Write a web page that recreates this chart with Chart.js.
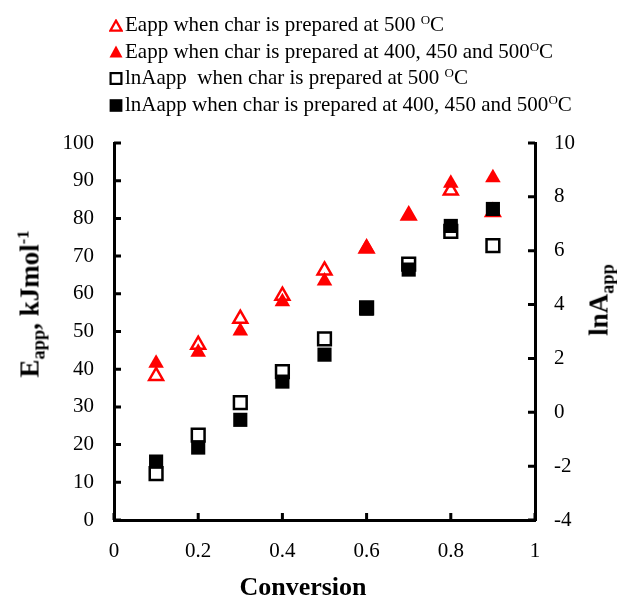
<!DOCTYPE html>
<html>
<head>
<meta charset="utf-8">
<script src="https://cdn.jsdelivr.net/npm/chart.js@4/dist/chart.umd.min.js"></script>
<style>
  html, body { margin: 0; padding: 0; background: #fff; }
  #wrap { position: relative; width: 617px; height: 601px; overflow: hidden; font-family: "Liberation Serif", "Times New Roman", serif; color: #000; }
  #c { position: absolute; left: 0; top: 0; }
  .leg { position: absolute; left: 125px; font-size: 21px; line-height: 1; white-space: nowrap; }
  .mk { position: absolute; left: 109px; }
  sup.o { font-size: 0.62em; vertical-align: 0.55em; line-height: 0; }
  .ytitle { position: absolute; font-weight: bold; font-size: 27px; line-height: 1; white-space: nowrap; transform: translate(-50%, -50%) rotate(-90deg); }
  .ytitle sub { font-size: 0.68em; vertical-align: -0.3em; line-height: 0; }
  .ytitle sup { font-size: 0.62em; vertical-align: 0.6em; line-height: 0; }
  #xtitle { position: absolute; left: 303px; top: 587px; transform: translate(-50%, -50%); font-weight: bold; font-size: 26px; line-height: 1; white-space: nowrap; }
</style>
</head>
<body>
<div id="wrap">
  <canvas id="c" width="617" height="601"></canvas>
  <svg class="mk" style="top:19px" width="14" height="13" viewBox="0 0 14 13"><polygon points="7,1.6 12.6,11.6 1.4,11.6" fill="#fff" stroke="#ff0000" stroke-width="2.2"/></svg>
  <div class="leg" style="top:14px">Eapp when char is prepared at 500 <sup class="o">O</sup>C</div>
  <svg class="mk" style="top:45px" width="14" height="13" viewBox="0 0 14 13"><polygon points="7,0.5 13.5,12.5 0.5,12.5" fill="#ff0000"/></svg>
  <div class="leg" style="top:40.7px">Eapp when char is prepared at 400, 450 and 500<sup class="o">O</sup>C</div>
  <svg class="mk" style="top:72px" width="14" height="13" viewBox="0 0 14 13"><rect x="1.6" y="1.1" width="10.8" height="10.8" fill="#fff" stroke="#000" stroke-width="2.2"/></svg>
  <div class="leg" style="top:67.4px">lnAapp &nbsp;when char is prepared at 500 <sup class="o">O</sup>C</div>
  <svg class="mk" style="top:99px" width="14" height="13" viewBox="0 0 14 13"><rect x="0.6" y="0.2" width="12.8" height="12.6" fill="#000"/></svg>
  <div class="leg" style="top:94.1px">lnAapp when char is prepared at 400, 450 and 500<sup class="o">O</sup>C</div>
  <div class="ytitle" style="left:30px; top:304px">E<sub>app</sub>, kJmol<sup>-1</sup></div>
  <div class="ytitle" style="left:599px; top:300px">lnA<sub>app</sub></div>
  <div id="xtitle">Conversion</div>
</div>
<script>
// ---- data ----
const conversion = [0.1, 0.2, 0.3, 0.4, 0.5, 0.6, 0.7, 0.8, 0.9];
const eappAt500 = [38.2, 46.5, 53.4, 59.5, 66.2, 72.0, 80.8, 87.4, 81.7];
const eappAtAll = [41.6, 44.5, 50.1, 57.9, 63.4, 72.3, 80.8, 89.3, 90.8];
const lnAappAt500 = [-2.28, -0.85, 0.36, 1.51, 2.73, 3.88, 5.50, 6.72, 6.19];
const lnAappAtAll = [-1.83, -1.31, -0.28, 1.14, 2.14, 3.85, 5.30, 6.92, 7.55];
const xTicks = [0, 0.2, 0.4, 0.6, 0.8, 1];
const yLeftRange = [0, 100, 10];
const yRightRange = [-4, 10, 2];

const toPts = (ys) => conversion.map((x, i) => ({ x: x, y: ys[i] }));

const FONT = "'Liberation Serif', 'Times New Roman', serif";

const inwardTicks = {
  id: 'inwardTicks',
  afterDatasetsDraw(chart) {
    const ctx = chart.ctx;
    const a = chart.chartArea;
    const len = 7;
    ctx.save();
    ctx.strokeStyle = '#000';
    ctx.lineWidth = 3;
    ctx.beginPath();
    const sx = chart.scales.x, yl = chart.scales.y, yr = chart.scales.y2;
    sx.ticks.forEach(t => {
      const p = sx.getPixelForValue(t.value);
      ctx.moveTo(p, a.bottom); ctx.lineTo(p, a.bottom - len);
    });
    yl.ticks.forEach(t => {
      const p = yl.getPixelForValue(t.value);
      ctx.moveTo(a.left, p); ctx.lineTo(a.left + len, p);
    });
    yr.ticks.forEach(t => {
      const p = yr.getPixelForValue(t.value);
      ctx.moveTo(a.right, p); ctx.lineTo(a.right - len, p);
    });
    ctx.stroke();
    ctx.restore();
  }
};

new Chart(document.getElementById('c'), {
  type: 'scatter',
  data: {
    datasets: [
      { label: 'lnAapp when char is prepared at 400, 450 and 500 OC', data: toPts(lnAappAtAll), yAxisID: 'y2', order: 0,
        pointStyle: 'rect', pointRadius: 10, pointHoverRadius: 10, backgroundColor: '#000', borderColor: '#000', borderWidth: 0 },
      { label: 'lnAapp when char is prepared at 500 OC', data: toPts(lnAappAt500), yAxisID: 'y2', order: 1,
        pointStyle: 'rect', pointRadius: 9, pointHoverRadius: 9, backgroundColor: '#fff', borderColor: '#000', borderWidth: 2.5 },
      { label: 'Eapp when char is prepared at 400, 450 and 500 OC', data: toPts(eappAtAll), yAxisID: 'y', order: 2,
        pointStyle: 'triangle', pointRadius: 9, pointHoverRadius: 9, backgroundColor: '#ff0000', borderColor: '#ff0000', borderWidth: 0 },
      { label: 'Eapp when char is prepared at 500 OC', data: toPts(eappAt500), yAxisID: 'y', order: 3,
        pointStyle: 'triangle', pointRadius: 8, pointHoverRadius: 8, backgroundColor: '#fff', borderColor: '#ff0000', borderWidth: 2.5 }
    ]
  },
  options: {
    responsive: false,
    animation: false,
    events: [],
    layout: { padding: { top: 143, left: 0, right: 0, bottom: 0 } },
    plugins: { legend: { display: false }, tooltip: { enabled: false } },
    scales: {
      x: {
        type: 'linear', min: xTicks[0], max: xTicks[xTicks.length - 1],
        afterBuildTicks: (s) => { s.ticks = xTicks.map(v => ({ value: v })); },
        afterFit: (s) => { s.height = 81; },
        grid: { display: false, drawTicks: false },
        border: { display: true, color: '#000', width: 3 },
        ticks: { color: '#000', padding: 19, font: { family: FONT, size: 21 }, maxRotation: 0,
                 callback: (v) => String(Math.round(v * 10) / 10) }
      },
      y: {
        type: 'linear', position: 'left', min: yLeftRange[0], max: yLeftRange[1],
        afterFit: (s) => { s.width = 114; },
        grid: { display: false, drawTicks: false },
        border: { display: true, color: '#000', width: 3 },
        ticks: { stepSize: yLeftRange[2], color: '#000', padding: 20, font: { family: FONT, size: 21 } }
      },
      y2: {
        type: 'linear', position: 'right', min: yRightRange[0], max: yRightRange[1],
        afterFit: (s) => { s.width = 82; },
        grid: { display: false, drawTicks: false },
        border: { display: true, color: '#000', width: 3 },
        ticks: { stepSize: yRightRange[2], color: '#000', padding: 19, font: { family: FONT, size: 21 } }
      }
    }
  },
  plugins: [inwardTicks]
});
</script>
</body>
</html>
